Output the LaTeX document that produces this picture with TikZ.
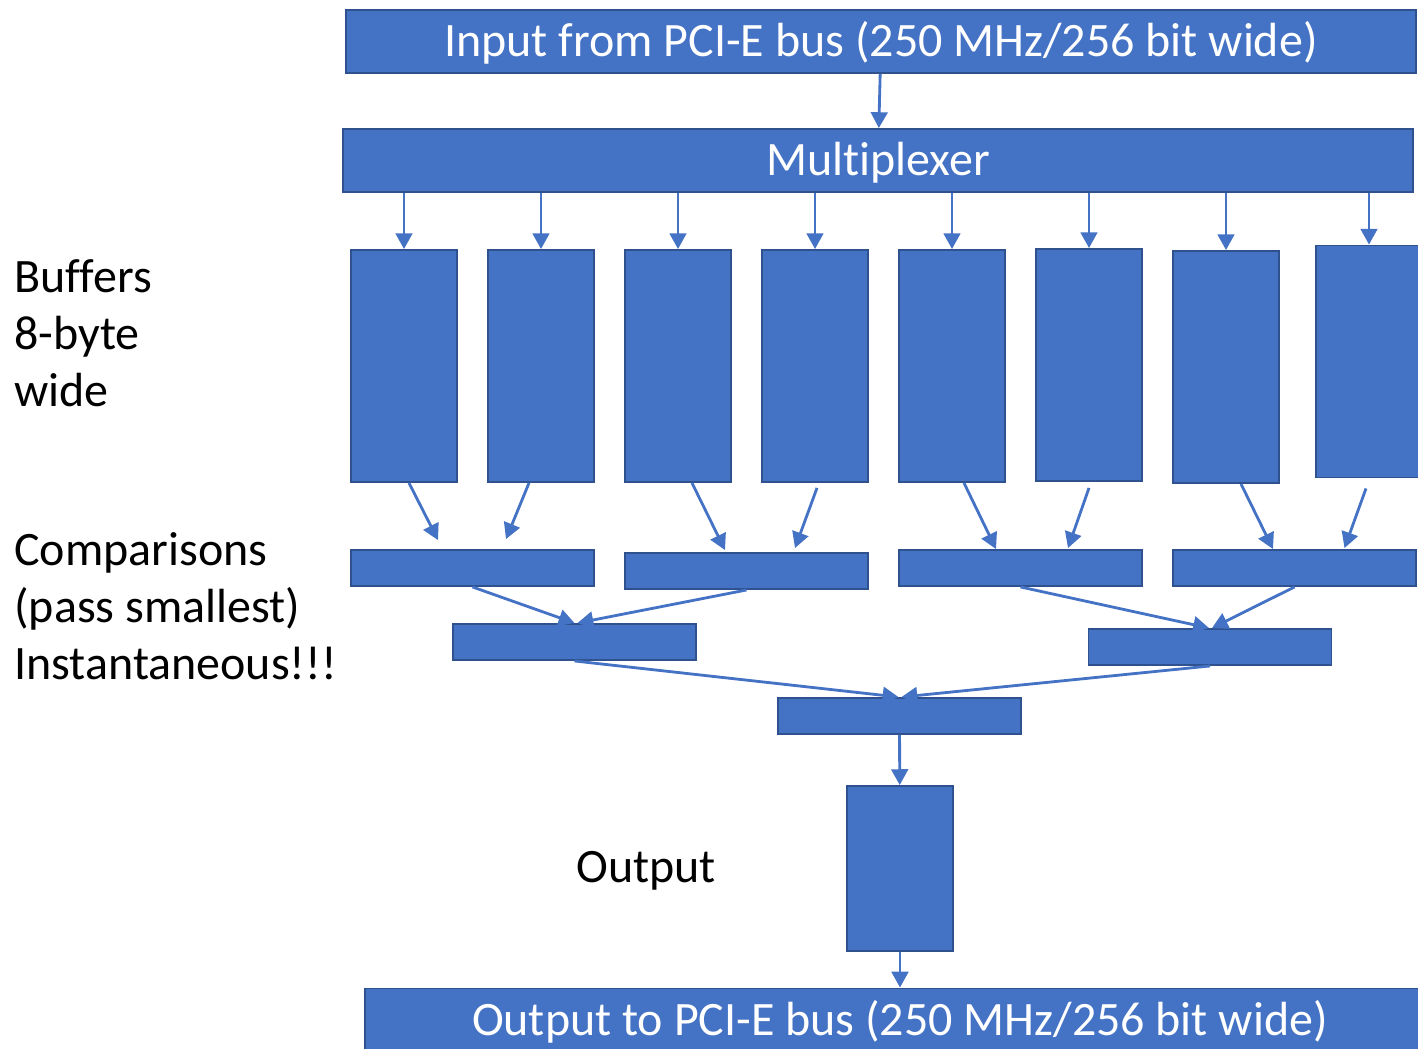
\documentclass[tikz,border=0pt]{standalone}
\usepackage{fontspec}
\setmainfont{Carlito}[Ligatures={NoCommon}]
\usetikzlibrary{positioning}
\usetikzlibrary{calc}
\usetikzlibrary{arrows.meta}
\definecolor{boxblue}{HTML}{4472C4}
\definecolor{boxedge}{HTML}{2F528F}

\begin{document}
\begin{tikzpicture}[
    x=0.02cm, y=-0.02cm,
    >={Triangle[length=9pt,width=9.5pt]},
    % node styles
    blk/.style = {
      draw=boxedge,
      fill=boxblue,
      line width=1.1pt,
      inner sep=0pt
    },
    bus/.style = {
      blk,
      minimum width=21.4cm,
      minimum height=1.26cm,
      text height=22.5pt,
      text depth=5pt,
      font=\fontsize{27.3}{32.6}\selectfont,
      text=white
    },
    buf/.style = {blk, minimum width=2.12cm, minimum height=4.64cm},
    cmp/.style = {blk, minimum width=4.86cm, minimum height=0.72cm},
    lbl/.style = {
      inner sep=0pt,
      anchor=west,
      align=left,
      font=\fontsize{27.3}{32.6}\selectfont
    },
    % arrow styles
    arr/.style = {->, line width=1.6pt, draw=boxblue}
  ]
  \useasboundingbox (0,0) rectangle (1418,1049);

  % --- Nodes
  \node[bus] (inp) at (881,41.5) {Input from PCI-E bus (250 MHz/256 bit wide)};
  \node[bus] (mux) at (878,160.5) {Multiplexer};

  \foreach \x/\y [count=\i] in {404/366, 541/366, 678/366, 815/366,
      952/366, 1089/365, 1226/367, 1369/361.5}
    \node[buf] (buf\i) at (\x,\y) {};

  \node[cmp] (cmpA) at (472.5,568) {};
  \node[cmp] (cmpB) at (746.5,571) {};
  \node[cmp] (cmpC) at (1020.5,568) {};
  \node[cmp] (cmpD) at (1294.5,568) {};
  \node[cmp] (cmpE) at (574.5,642) {};
  \node[cmp] (cmpF) at (1210,647) {};
  \node[cmp] (cmpG) at (899.5,716) {};

  \node[buf, minimum height=3.3cm] (outbuf) at (900,868.5) {};
  \node[bus] (outp) at (900,1020) {Output to PCI-E bus (250 MHz/256 bit wide)};

  % --- Labels
  \node[lbl] (bufnote) at (14,333) {Buffers\\8-byte\\wide};
  \node[lbl] (cmpnote) at (14,606) {Comparisons\\(pass smallest)\\Instantaneous!!!};
  \node[lbl] (outnote) at (576,871) {Output};

  % --- Arrows
  \draw[arr] (inp) -- (mux);
  \foreach \i in {1,...,8}
    \draw[arr] (mux.south -| buf\i.north) -- (buf\i.north);

  \draw[arr] ($(buf1.south)+(5,0)$) -- ($(cmpA.north)+(-34.5,-9)$);
  \draw[arr] ($(buf2.south)+(-12,0)$) -- ($(cmpA.north)+(33.5,-10)$);
  \draw[arr] ($(buf3.south)+(14,0)$) -- ($(cmpB.north)+(-21.5,-2)$);
  \draw[arr] ($(buf4.south)+(2,5)$) -- ($(cmpB.north)+(48.5,-4)$);
  \draw[arr] ($(buf5.south)+(12,0)$) -- ($(cmpC.north)+(-24.5,0)$);
  \draw[arr] ($(buf6.south)+(0,6)$) -- ($(cmpC.north)+(47.5,-1)$);
  \draw[arr] ($(buf7.south)+(15,0)$) -- ($(cmpD.north)+(-21.5,0)$);
  \draw[arr] ($(buf8.south)+(-3,10)$) -- ($(cmpD.north)+(50,-1)$);

  \draw[arr] (cmpA.south) -- (cmpE.north);
  \draw[arr] (cmpB.south) -- ($(cmpE.north)+(3,0)$);
  \draw[arr] (cmpC.south) -- ($(cmpF.north)+(-1,0)$);
  \draw[arr] (cmpD.south) -- ($(cmpF.north)+(2,0)$);
  \draw[arr] (cmpE.south) -- ($(cmpG.north)+(-1,0)$);
  \draw[arr] (cmpF.south) -- ($(cmpG.north)+(2,0)$);

  \draw[arr] (cmpG) -- (outbuf);
  \draw[arr] (outbuf) -- (outp);

\end{tikzpicture}
\end{document}
